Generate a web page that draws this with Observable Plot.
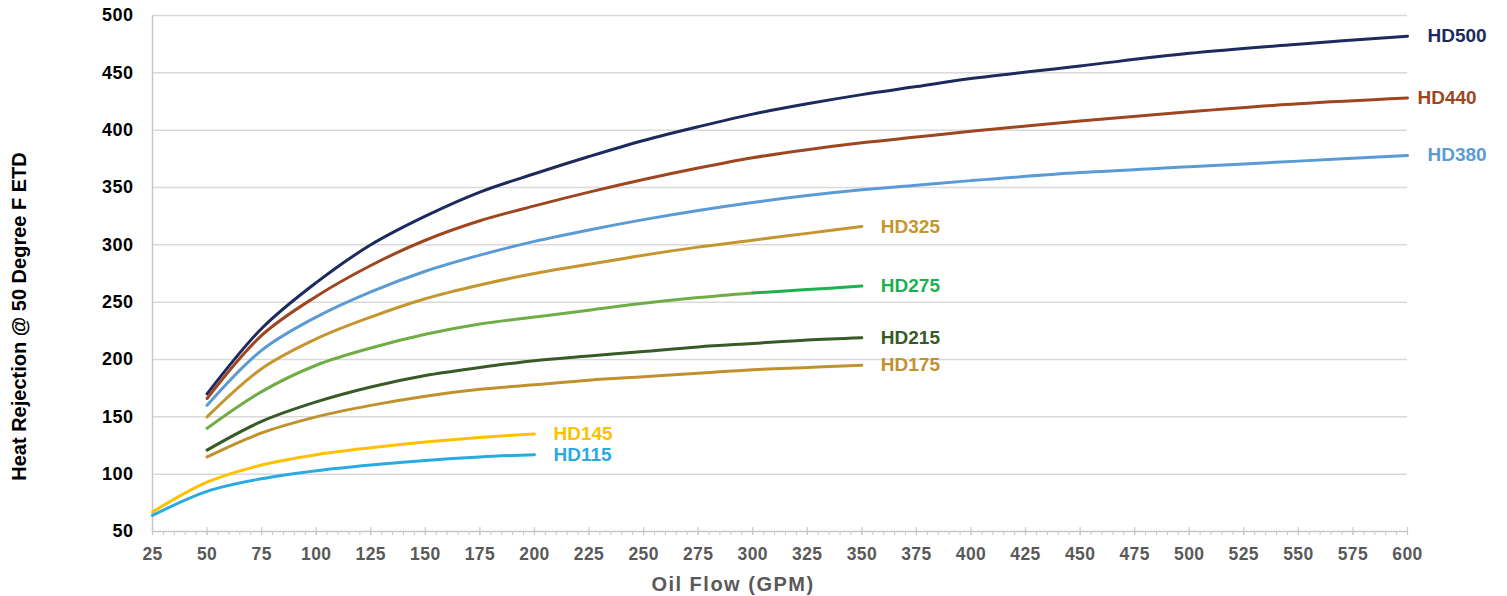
<!DOCTYPE html>
<html>
<head>
<meta charset="utf-8">
<script src="https://cdn.jsdelivr.net/npm/d3@7"></script>
<script src="https://cdn.jsdelivr.net/npm/@observablehq/plot@0.6"></script>
<style>
  body { margin: 0; background: #fff; }
  #chart svg { display: block; font-family: "Liberation Sans", Arial, sans-serif; }
  g[aria-label="y-axis tick label"] text { letter-spacing: 0.5px; }
  g[aria-label="x-axis tick label"] text { letter-spacing: 0.4px; }
</style>
</head>
<body>
<div id="chart"></div>
<script>
// ---- data ----
const flowLong  = [50, 75, 100, 125, 150, 175, 200, 225, 250, 275, 300, 325, 350, 375, 400, 450, 500, 550, 600];
const flowMid   = [50, 75, 100, 125, 150, 175, 200, 225, 250, 275, 300, 325, 350];
const flowShort = [25, 50, 75, 100, 125, 150, 175, 200];

const hd500 = [170, 227, 267, 300, 325, 346, 362, 377, 391, 403, 414, 423, 431, 438, 445, 456, 467, 475, 482];
const hd440 = [166, 221, 255, 282, 304, 321, 334, 346, 357, 367, 376, 383, 389, 394, 399, 408, 416, 423, 428];
const hd380 = [160, 208, 237, 259, 277, 291, 303, 313, 322, 330, 337, 343, 348, 352, 356, 363, 368, 373, 378];
const hd325 = [150, 192, 218, 237, 253, 265, 275, 283, 291, 298, 304, 310, 316];
const hd275 = [140, 172, 195, 210, 222, 231, 237, 243, 249, 254, 258, 261, 264];
const hd215 = [121, 146, 163, 176, 186, 193, 199, 203, 207, 211, 214, 217, 219];
const hd175 = [115, 136, 150, 160, 168, 174, 178, 182, 185, 188, 191, 193, 195];
const hd145 = [67, 93, 108, 117, 123, 128, 132, 135];
const hd115 = [64, 85, 96, 103, 108, 112, 115, 117];

const seriesNames = ["HD500", "HD440", "HD380", "HD325", "HD275", "HD215", "HD175", "HD145", "HD115"];
const seriesFlows = [flowLong, flowLong, flowLong, flowMid, flowMid, flowMid, flowMid, flowShort, flowShort];
const seriesValues = [hd500, hd440, hd380, hd325, hd275, hd215, hd175, hd145, hd115];

const xTicks = d3.range(25, 601, 25);
const xMinor = d3.range(25, 601, 5);
const yTicks = d3.range(50, 501, 50);

// ---- styles ----
const lineColor = {
  HD500: "#1c2a5e", HD440: "#9e461f", HD380: "#5b9bd5", HD325: "#c4962f",
  HD275: "#70ad47", HD215: "#375a26", HD175: "#c0922e", HD145: "#ffc000", HD115: "#29aae1"
};
const labelColor = { ...lineColor, HD275: "#1db04f" };
const labelDx = { HD500: 20, HD440: 10, HD380: 20, HD325: 19, HD275: 19, HD215: 19, HD175: 19, HD145: 19, HD115: 19 };
const hd275Switch = 300; // colour change of HD275 line

const rows = seriesNames.flatMap((name, s) =>
  seriesFlows[s].map((f, i) => ({ series: name, flow: f, value: seriesValues[s][i] }))
);
const lastRows = seriesNames.map(name => rows.filter(r => r.series === name).at(-1));

const lineMarks = seriesNames.flatMap(name => {
  const data = rows.filter(r => r.series === name);
  const common = { x: "flow", y: "value", strokeWidth: 3, curve: "catmull-rom" };
  if (name === "HD275") {
    return [
      Plot.line(data.filter(r => r.flow <= hd275Switch), { ...common, stroke: lineColor.HD275 }),
      Plot.line(data.filter(r => r.flow >= hd275Switch), { ...common, stroke: labelColor.HD275 })
    ];
  }
  return [Plot.line(data, { ...common, stroke: lineColor[name] })];
});

const labelMarks = lastRows.map(r =>
  Plot.text([r], {
    x: "flow", y: "value", text: "series", fill: labelColor[r.series],
    dx: labelDx[r.series], textAnchor: "start", fontSize: 19, fontWeight: "bold"
  })
);

const plot = Plot.plot({
  width: 1507,
  height: 596,
  marginLeft: 152,
  marginRight: 100,
  marginTop: 15,
  marginBottom: 65,
  x: { domain: [25, 600] },
  y: { domain: [50, 500] },
  style: { fontFamily: "'Liberation Sans', Arial, sans-serif", background: "#fff", overflow: "visible" },
  marks: [
    Plot.ruleY(yTicks.filter(d => d > 50), { y: d => d, stroke: "#d9d9d9", strokeWidth: 1.5 }),
    Plot.ruleX([25], { x: d => d, stroke: "#c8c8c8", strokeWidth: 1.5 }),
    Plot.ruleY([50], { y: d => d, stroke: "#c8c8c8", strokeWidth: 1.5 }),
    Plot.ruleX(xMinor, { x: d => d, y1: 50, y2: 50, insetTop: 0, insetBottom: -4, stroke: "#c8c8c8", strokeWidth: 1 }),
    Plot.ruleX(xTicks, { x: d => d, y1: 50, y2: 50, insetTop: -4, insetBottom: -4, stroke: "#c8c8c8", strokeWidth: 1.2 }),
    Plot.axisX(xTicks, { tickSize: 0, tickPadding: 16, fontSize: 17.5, fontWeight: "bold", fill: "#595959", label: null }),
    Plot.axisY(yTicks, { tickSize: 0, tickPadding: 19, fontSize: 18, fontWeight: "bold", fill: "#000", label: null }),
    ...lineMarks,
    ...labelMarks,
    Plot.text(["Heat Rejection @ 50 Degree F ETD"], {
      text: d => d, frameAnchor: "left", textAnchor: "middle", rotate: -90, dx: -133, dy: 43,
      fontSize: 20, fontWeight: "bold", fill: "#000", lineAnchor: "middle"
    }),
    Plot.text(["Oil Flow (GPM)"], {
      text: d => d, frameAnchor: "bottom", textAnchor: "middle", dx: -47, dy: 53, lineAnchor: "middle",
      fontSize: 20, fontWeight: "bold", fill: "#595959"
    })
  ]
});

document.getElementById("chart").appendChild(plot);
// letter spacing on the x title
d3.select(plot).selectAll("text").filter(function () { return this.textContent === "Oil Flow (GPM)"; })
  .style("letter-spacing", "1.5px");
</script>
</body>
</html>
